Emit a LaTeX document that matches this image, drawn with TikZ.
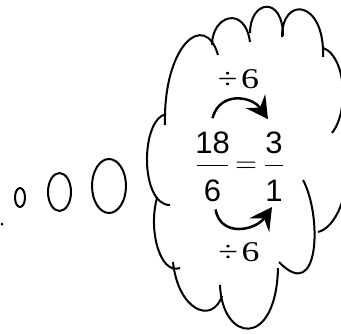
\documentclass[tikz,border=0pt]{standalone}
\usepackage{graphicx}
\usepackage{fontspec}
\setmainfont{Liberation Serif}
\newfontfamily\numfont{Liberation Sans}
\usetikzlibrary{arrows.meta}

\begin{document}
\begin{tikzpicture}[x=0.5pt, y=0.5pt,
    puff/.style={line width=1pt},
    num/.style={font=\numfont\fontsize{15.5}{18}\selectfont, inner sep=0pt},
    divlbl/.style={font=\fontsize{14.3}{17}\selectfont, inner sep=0pt},
    turn/.style={-{Stealth[length=11pt, width=12pt, inset=4pt]}, line width=1.25pt, looseness=1.3}]
    \useasboundingbox (0,0) rectangle (341,333);
    \clip (0,0) rectangle (341,333);

    % Bubbles
    \fill (2,109) circle (1.5);
    \draw[puff] (20,135.5) ellipse (5 and 9.5);
    \draw[puff] (59.5,141) ellipse (11.5 and 19);
    \draw[puff] (109,147) ellipse (17 and 27);

    % Cloud
    \draw[puff] (165,208) .. controls (163,288) and (205,323) .. (218,278);
    \draw[puff] (212,288) .. controls (212,318) and (245,328) .. (250,291);
    \draw[puff] (250,300) .. controls (250,333) and (283,338) .. (283,297);
    \draw[puff] (282,296) .. controls (282,338) and (325,333) .. (323,276);
    \draw[puff] (323,285) .. controls (345,278) and (350,223) .. (332,200);
    \draw[puff] (345,183) .. controls (352,138) and (335,105) .. (318,101);
    \draw[puff] (303,153) .. controls (322,118) and (320,28) .. (279,71);
    \draw[puff] (220,48) .. controls (222,-9) and (276,-17) .. (278,65);
    \draw[puff] (173,71) .. controls (178,23) and (212,8) .. (222,37);
    \draw[puff] (157,135) .. controls (148,103) and (160,58) .. (180,65);
    \draw[puff] (166,219) .. controls (140,213) and (140,128) .. (170,128);

    % Fractions
    \node[num] (n18) at (212.5,190.5) {18};
    \node[num] (d6) at (212.5,142) {6};
    \node[num] (n3) at (274,190.5) {3};
    \node[num] (d1) at (274,142) {1};
    \node[divlbl] (eq) at (246,166) {\fontsize{15}{18}\selectfont$=$};
    \draw[line width=0.7pt] (197,167.3) -- (228,167.3);
    \draw[line width=0.7pt] (265,167.3) -- (283,167.3);

    % Division steps
    \node[divlbl] (topdiv) at (238.5,254) {\scalebox{1.25}[1]{÷\hspace{1.5pt}6}};
    \node[divlbl] (botdiv) at (239,81) {\scalebox{1.25}[1]{÷\hspace{1.5pt}6}};
    \draw[turn] ([yshift=6.5pt]n18.north) to[out=75, in=125] ([xshift=-3pt, yshift=6pt]n3.north);
    \draw[turn] ([xshift=1.5pt, yshift=-3.5pt]d6.south) to[out=-80, in=-125] ([xshift=-1pt, yshift=-2.5pt]d1.south);
\end{tikzpicture}
\end{document}
